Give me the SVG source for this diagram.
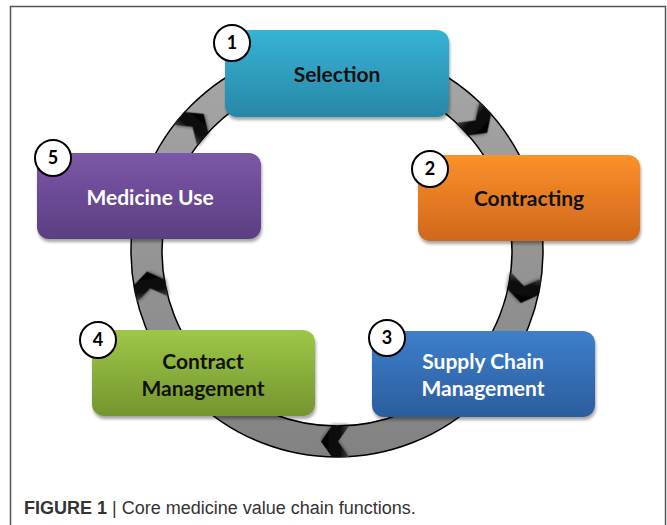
<svg xmlns="http://www.w3.org/2000/svg" width="667" height="525" viewBox="0 0 667 525">
<defs>
<linearGradient id="gRing" gradientUnits="userSpaceOnUse" x1="0" y1="45" x2="0" y2="457">
<stop offset="0" stop-color="#a8a8a8"/><stop offset="1" stop-color="#828282"/>
</linearGradient>
<linearGradient id="gChev" x1="0" y1="0" x2="1" y2="0">
<stop offset="0" stop-color="#444"/><stop offset="0.3" stop-color="#111"/><stop offset="1" stop-color="#000"/>
</linearGradient>
<linearGradient id="g1" x1="0" y1="0" x2="0" y2="1"><stop offset="0" stop-color="#36b3d6"/><stop offset="1" stop-color="#2887a6"/></linearGradient>
<linearGradient id="g2" x1="0" y1="0" x2="0" y2="1"><stop offset="0" stop-color="#fb9129"/><stop offset="1" stop-color="#d0671c"/></linearGradient>
<linearGradient id="g3" x1="0" y1="0" x2="0" y2="1"><stop offset="0" stop-color="#3d7fcb"/><stop offset="1" stop-color="#2b5d9e"/></linearGradient>
<linearGradient id="g4" x1="0" y1="0" x2="0" y2="1"><stop offset="0" stop-color="#9ec748"/><stop offset="1" stop-color="#74952e"/></linearGradient>
<linearGradient id="g5" x1="0" y1="0" x2="0" y2="1"><stop offset="0" stop-color="#7c57a7"/><stop offset="1" stop-color="#5b3e83"/></linearGradient>
<filter id="sh" x="-10%" y="-10%" width="120%" height="130%">
<feDropShadow dx="1" dy="3" stdDeviation="1.5" flood-color="#000" flood-opacity="0.35"/>
</filter>
<filter id="csh" x="-30%" y="-30%" width="160%" height="160%">
<feDropShadow dx="0" dy="2" stdDeviation="1.5" flood-color="#000" flood-opacity="0.4"/>
</filter>
<path id="chev" d="M-12,-15.5 L5,-15.5 L16,0 L5,15.5 L-12,15.5 L-1,0 Z"/>
</defs>
<style>
.box{filter:url(#sh)}
.ch{fill:url(#gChev);filter:url(#csh)}
.lbl{font-family:Lato,"Open Sans","Liberation Sans",sans-serif;font-weight:bold;font-size:21px;text-anchor:middle}
.dark{fill:#111}
.light{fill:#fff}
.num{fill:#fff;stroke:#000;stroke-width:2}
.numt{font-family:Lato,"Liberation Sans",sans-serif;font-weight:bold;font-size:18px;text-anchor:middle;fill:#000}
.cap{font-family:"Liberation Sans",Arial,sans-serif;font-size:18px;fill:#333}
</style>
<rect x="0" y="0" width="667" height="525" fill="#fff"/>
<rect x="10.5" y="6.5" width="655" height="540" fill="none" stroke="#555" stroke-width="1.5"/>

<g id="connectors">
<path d="M131,251 A206,206 0 1,0 543,251 A206,206 0 1,0 131,251 Z M162,251 A175,175 0 1,1 512,251 A175,175 0 1,1 162,251 Z" fill="url(#gRing)" fill-rule="evenodd" stroke="#000" stroke-width="1.5"/>
<use href="#chev" class="ch" transform="translate(193.2,126) rotate(-49)"/>
<use href="#chev" class="ch" transform="translate(476.3,121.1) rotate(47)"/>
<use href="#chev" class="ch" transform="translate(524,287.3) rotate(101)"/>
<use href="#chev" class="ch" transform="translate(337,441.5) rotate(180)"/>
<use href="#chev" class="ch" transform="translate(150,287.3) rotate(259)"/>
</g>

<g id="node1">
<rect class="box" x="225" y="30" width="224" height="87" rx="12" fill="url(#g1)"/>
<text class="lbl dark" x="337" y="82">Selection</text>
<circle class="num" cx="232" cy="43" r="18"/>
<text class="numt" x="232" y="49">1</text>
</g>
<g id="node2">
<rect class="box" x="418" y="155" width="222" height="86" rx="12" fill="url(#g2)"/>
<text class="lbl dark" x="529" y="206">Contracting</text>
<circle class="num" cx="430" cy="169" r="18"/>
<text class="numt" x="430" y="175">2</text>
</g>
<g id="node3">
<rect class="box" x="372" y="331" width="223" height="86" rx="12" fill="url(#g3)"/>
<text class="lbl light" x="483" y="369">Supply Chain</text>
<text class="lbl light" x="483" y="396">Management</text>
<circle class="num" cx="387" cy="338" r="18"/>
<text class="numt" x="387" y="344">3</text>
</g>
<g id="node4">
<rect class="box" x="92" y="330" width="223" height="86" rx="12" fill="url(#g4)"/>
<text class="lbl dark" x="203" y="369">Contract</text>
<text class="lbl dark" x="203" y="396">Management</text>
<circle class="num" cx="98" cy="340" r="18"/>
<text class="numt" x="98" y="346">4</text>
</g>
<g id="node5">
<rect class="box" x="37" y="153" width="224" height="86" rx="12" fill="url(#g5)"/>
<text class="lbl light" x="150" y="205">Medicine Use</text>
<circle class="num" cx="53" cy="158" r="18"/>
<text class="numt" x="53" y="164">5</text>
</g>

<text class="cap" x="24" y="514"><tspan font-weight="bold">FIGURE 1</tspan> | Core medicine value chain functions.</text>
</svg>
